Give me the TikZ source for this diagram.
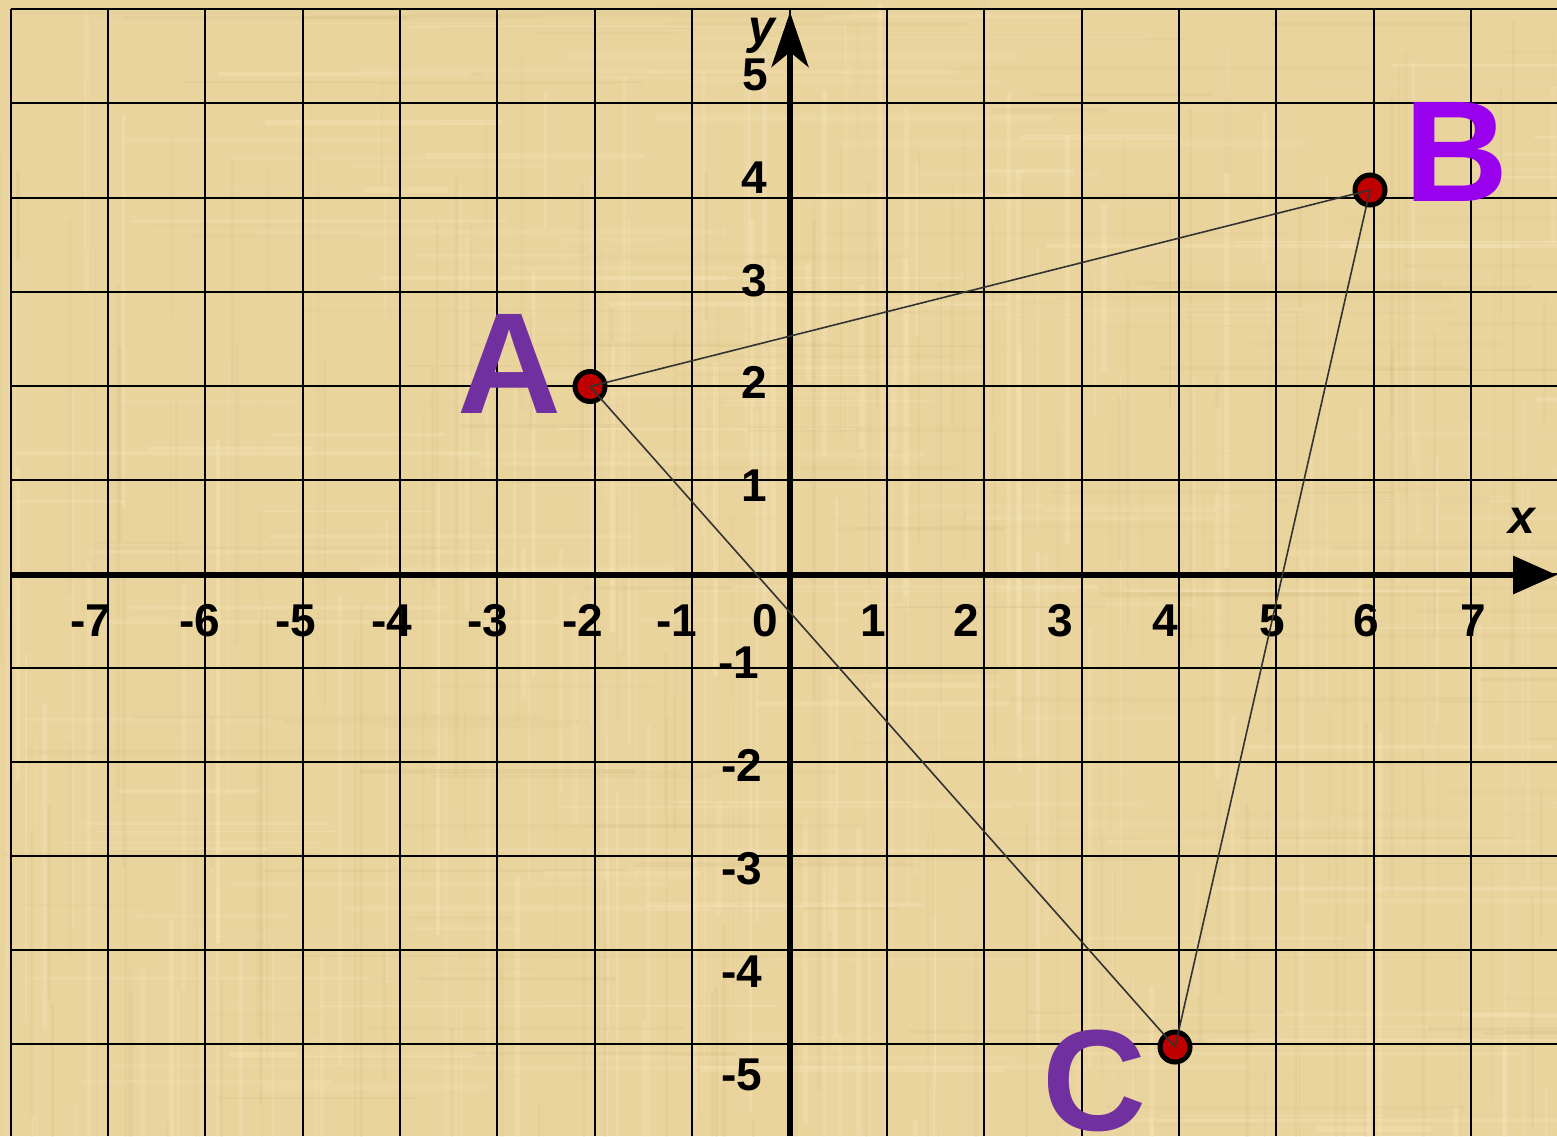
\documentclass[tikz,border=0pt]{standalone}
\usepackage{fontspec}
\setmainfont{Liberation Sans}
\usetikzlibrary{arrows.meta}
\definecolor{papyrus}{RGB}{234,212,158}
\definecolor{fiberdark}{RGB}{200,172,112}
\definecolor{fiberlight}{RGB}{250,236,196}
\definecolor{letterpurple}{RGB}{112,48,160}
\definecolor{letterviolet}{RGB}{153,0,238}
\definecolor{dotred}{RGB}{192,0,0}
\definecolor{sideline}{RGB}{51,51,51}
\tikzset{
  gridline/.style={black, line width=1pt},
  axisline/.style={black, line width=3.25pt},
  ticklabel/.style={inner sep=0pt, anchor=base, font=\fontsize{23}{23}\selectfont\bfseries},
  axislabel/.style={inner sep=0pt, anchor=base, font=\fontsize{24}{24}\selectfont\bfseries\itshape},
  ptlabel/.style={inner sep=0pt, anchor=base, font=\fontsize{72}{72}\selectfont\bfseries},
  dot/.style={circle, draw=black, line width=2.5pt, fill=dotred, minimum size=15pt, inner sep=0pt},
  side/.style={sideline, line width=0.8pt}
}
\begin{document}
\begin{tikzpicture}[x=0.5pt, y=-0.5pt]
\useasboundingbox (0,0) rectangle (1557,1136);
% papyrus background
\fill[papyrus] (0,0) rectangle (1557,1136);
\pgfmathsetseed{7}
\foreach \i in {1,...,160}{
  \pgfmathsetmacro{\xx}{rnd*1557}
  \pgfmathsetmacro{\ya}{rnd*1136}
  \pgfmathsetmacro{\yb}{\ya+100+rnd*500}
  \pgfmathsetmacro{\ww}{0.4+rnd*2}
  \pgfmathsetmacro{\oo}{0.05+rnd*0.1}
  \draw[fiberdark, line width=\ww pt, opacity=\oo] (\xx,\ya) -- (\xx,\yb);
}
\foreach \i in {1,...,160}{
  \pgfmathsetmacro{\xx}{rnd*1557}
  \pgfmathsetmacro{\ya}{rnd*1136}
  \pgfmathsetmacro{\yb}{\ya+100+rnd*500}
  \pgfmathsetmacro{\ww}{0.4+rnd*2.5}
  \pgfmathsetmacro{\oo}{0.1+rnd*0.2}
  \draw[fiberlight, line width=\ww pt, opacity=\oo] (\xx,\ya) -- (\xx,\yb);
}
\foreach \i in {1,...,140}{
  \pgfmathsetmacro{\yy}{rnd*1136}
  \pgfmathsetmacro{\xa}{rnd*1557}
  \pgfmathsetmacro{\xb}{\xa+80+rnd*400}
  \pgfmathsetmacro{\ww}{0.4+rnd*2}
  \pgfmathsetmacro{\oo}{0.05+rnd*0.1}
  \draw[fiberdark, line width=\ww pt, opacity=\oo] (\xa,\yy) -- (\xb,\yy);
}
\foreach \i in {1,...,140}{
  \pgfmathsetmacro{\yy}{rnd*1136}
  \pgfmathsetmacro{\xa}{rnd*1557}
  \pgfmathsetmacro{\xb}{\xa+80+rnd*400}
  \pgfmathsetmacro{\ww}{0.4+rnd*2.5}
  \pgfmathsetmacro{\oo}{0.1+rnd*0.18}
  \draw[fiberlight, line width=\ww pt, opacity=\oo] (\xa,\yy) -- (\xb,\yy);
}
\clip (0,0) rectangle (1557,1136);
% grid
\foreach \k in {0,...,15}{
  \draw[gridline] ({10.7+\k*97.35},9.3) -- ({10.7+\k*97.35},1136);
}
\foreach \k in {0,...,11}{
  \draw[gridline] (10.7,{9.3+\k*94.1}) -- (1557,{9.3+\k*94.1});
}
% axes
\coordinate (xstart) at (10.7,575);
\coordinate (xend) at (1557,575);
\coordinate (ystart) at (790,1136);
\coordinate (yend) at (790,12);
\draw[axisline, -{Triangle[length=22pt, width=18.5pt]}] (xstart) -- (xend);
\draw[axisline, -{Stealth[length=27.5pt, width=18.5pt, inset=7.5pt]}] (ystart) -- (yend);
\node[axislabel] (xlab) at (1522,533) {x};
\node[axislabel] (ylab) at (762,43) {y};
% x tick labels
\node[ticklabel] (xm7) at (90.7,636) {-7};
\node[ticklabel] (xm6) at (200,636) {-6};
\node[ticklabel] (xm5) at (295.7,636) {-5};
\node[ticklabel] (xm4) at (392,636) {-4};
\node[ticklabel] (xm3) at (487.5,636) {-3};
\node[ticklabel] (xm2) at (583,636) {-2};
\node[ticklabel] (xm1) at (676.7,636) {-1};
\node[ticklabel] (x0) at (765.7,636) {0};
\node[ticklabel] (x1) at (873,636) {1};
\node[ticklabel] (x2) at (966.7,636) {2};
\node[ticklabel] (x3) at (1060,636) {3};
\node[ticklabel] (x4) at (1165.7,636) {4};
\node[ticklabel] (x5) at (1272,636) {5};
\node[ticklabel] (x6) at (1366,636) {6};
\node[ticklabel] (x7) at (1473,636) {7};
% y tick labels
\node[ticklabel] (y5) at (755,90) {5};
\node[ticklabel] (y4) at (754,193) {4};
\node[ticklabel] (y3) at (754,296) {3};
\node[ticklabel] (y2) at (754,398) {2};
\node[ticklabel] (y1) at (754,501) {1};
\node[ticklabel] (ym1) at (739,678) {-1};
\node[ticklabel] (ym2) at (742,781) {-2};
\node[ticklabel] (ym3) at (742,884) {-3};
\node[ticklabel] (ym4) at (742,987) {-4};
\node[ticklabel] (ym5) at (742,1090) {-5};
% points
\node[dot] (A) at (590,386.5) {};
\node[dot] (B) at (1370,190) {};
\node[dot] (C) at (1175,1047) {};
\draw[side] (A.center) -- (B.center);
\draw[side] (B.center) -- (C.center);
\draw[side] (C.center) -- (A.center);
% point labels
\node[ptlabel, text=letterpurple] (Alab) at (509.5,413) {A};
\node[ptlabel, text=letterviolet] (Blab) at (1456.5,201.7) {B};
\node[ptlabel, text=letterpurple] (Clab) at (1094.5,1130) {C};
\end{tikzpicture}
\end{document}
